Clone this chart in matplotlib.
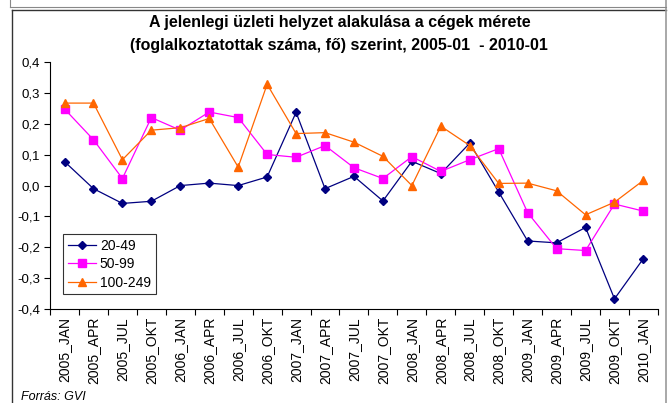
import numpy as np
import matplotlib.pyplot as plt
from matplotlib.lines import Line2D

plt.rcParams['font.family'] = ['Liberation Sans', 'DejaVu Sans']

periods = ['2005_JAN', '2005_APR', '2005_JUL', '2005_OKT',
           '2006_JAN', '2006_APR', '2006_JUL', '2006_OKT',
           '2007_JAN', '2007_APR', '2007_JUL', '2007_OKT',
           '2008_JAN', '2008_APR', '2008_JUL', '2008_OKT',
           '2009_JAN', '2009_APR', '2009_JUL', '2009_OKT', '2010_JAN']

s_20_49 = [0.078, -0.010, -0.058, -0.051, 0.000, 0.008, 0.000, 0.028,
           0.238, -0.010, 0.030, -0.050, 0.079, 0.039, 0.138, -0.021,
           -0.180, -0.186, -0.136, -0.368, -0.237]
s_50_99 = [0.249, 0.149, 0.023, 0.221, 0.180, 0.239, 0.221, 0.101,
           0.092, 0.130, 0.058, 0.023, 0.094, 0.046, 0.084, 0.120,
           -0.088, -0.205, -0.211, -0.060, -0.083]
s_100_249 = [0.268, 0.268, 0.084, 0.180, 0.188, 0.218, 0.060, 0.329,
             0.169, 0.172, 0.141, 0.095, 0.000, 0.193, 0.130, 0.007,
             0.008, -0.017, -0.095, -0.054, 0.017]

yticks = [-0.4, -0.3, -0.2, -0.1, 0.0, 0.1, 0.2, 0.3, 0.4]
ylabels = ['-0,4', '-0,3', '-0,2', '-0,1', '0,0', '0,1', '0,2', '0,3', '0,4']

fig = plt.figure(figsize=(6.68, 4.03), dpi=100)
ax = fig.add_axes([0.0749, 0.234, 0.910, 0.611])

x = np.arange(len(periods))
ax.plot(x, s_20_49, color='#000080', lw=0.9, marker='D', ms=4.2, label='20-49')
ax.plot(x, s_50_99, color='#FF00FF', lw=0.9, marker='s', ms=5.5, label='50-99')
ax.plot(x, s_100_249, color='#FF6600', lw=0.9, marker='^', ms=5.5, label='100-249')

ax.set_xlim(-0.5, len(periods) - 0.5)
ax.set_ylim(-0.4, 0.4)
ax.set_yticks(yticks)
ax.set_yticklabels(ylabels, fontsize=9.5)
ax.set_xticks(x)
ax.set_xticklabels(periods, rotation=90, fontsize=10)
ax.set_xticks(np.arange(-0.5, len(periods)), minor=True)
ax.tick_params(axis='x', which='major', length=0, pad=6)
ax.tick_params(axis='x', which='minor', length=4, width=0.8, direction='out')
ax.tick_params(axis='y', length=4, width=0.8, direction='out', pad=3)
for side in ['top', 'right']:
    ax.spines[side].set_visible(False)
ax.spines['left'].set_linewidth(0.8)
ax.spines['bottom'].set_linewidth(0.8)

leg = ax.legend(loc='lower left', bbox_to_anchor=(0.01, 0.03), fontsize=10,
                frameon=True, fancybox=False, edgecolor='black',
                handlelength=2.0, borderpad=0.35, labelspacing=0.3,
                handletextpad=0.3)
leg.get_frame().set_linewidth(0.8)

fig.text(0.508, 0.943, 'A jelenlegi üzleti helyzet alakulása a cégek mérete',
         ha='center', va='center', fontsize=11.5, fontweight='bold')
fig.text(0.508, 0.886, '(foglalkoztatottak száma, fő) szerint, 2005-01  - 2010-01',
         ha='center', va='center', fontsize=11.5, fontweight='bold')
fig.text(0.032, 0.016, 'Forrás: GVI', fontsize=9, style='italic', ha='left', va='center')

# outer chart frame
W, H = 668, 403
fig.add_artist(Line2D([12 / W, 666 / W], [1 - 9.5 / H, 1 - 9.5 / H], color='#333333', lw=1.0))
fig.add_artist(Line2D([12 / W, 12 / W], [0, 1 - 9.5 / H], color='#333333', lw=1.0))
fig.add_artist(Line2D([666 / W, 666 / W], [0, 1], color='#999999', lw=1.2))
fig.add_artist(Line2D([10 / W, 666 / W], [1 - 6.5 / H, 1 - 6.5 / H], color='#888888', lw=0.8))
fig.add_artist(Line2D([10 / W, 10 / W], [1 - 6.5 / H, 1], color='#888888', lw=0.8))

fig.savefig('out.png', dpi=100)
